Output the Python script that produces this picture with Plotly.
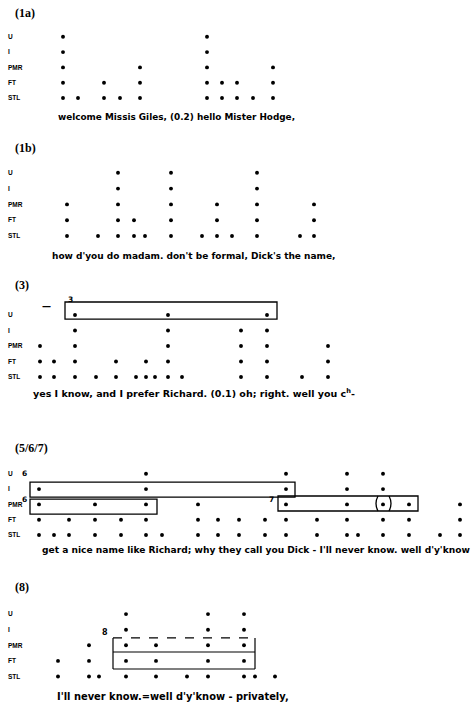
import plotly.graph_objects as go

W, H = 475, 709

# ---------------- data ----------------
levels = ["STL", "FT", "PMR", "I", "U"]

titles = ["(1a)", "(1b)", "(3)", "(5/6/7)", "(8)"]
utterances = [
    "welcome Missis Giles, (0.2) hello Mister Hodge,",
    "how d'you do madam. don't be formal, Dick's the name,",
    "yes I know, and I prefer Richard. (0.1) oh; right. well you c<sup>h</sup>-",
    "get a nice name like Richard; why they call you Dick - I'll never know. well d'y'know",
    "I'll never know.=well d'y'know - privately,",
]

# beat positions along each utterance and number of stacked prominence levels
pos_1a = [63, 78, 104, 120, 140, 207, 222, 237, 253, 273]
hgt_1a = [5, 1, 2, 1, 3, 5, 2, 2, 1, 3]

pos_1b = [67, 98, 118, 134, 145, 171, 202, 217, 232, 257, 300, 314]
hgt_1b = [3, 1, 5, 2, 1, 5, 1, 3, 1, 5, 1, 3]

pos_3 = [40, 54, 75, 96, 116, 136, 146, 155, 168, 182, 241, 267, 302, 328]
hgt_3 = [3, 2, 5, 1, 2, 1, 2, 1, 5, 1, 4, 5, 1, 3]

pos_567 = [39, 54, 69, 95, 121, 146, 162, 198, 218, 239, 265, 286, 317, 347, 358, 383, 409, 440, 460]
hgt_567 = [4, 1, 2, 3, 2, 5, 1, 3, 2, 2, 2, 5, 2, 5, 1, 5, 3, 1, 3]

pos_8 = [58, 89, 99, 126, 156, 187, 208, 244, 255, 275]
hgt_8 = [2, 3, 1, 5, 3, 1, 5, 5, 1, 1]

positions = [pos_1a, pos_1b, pos_3, pos_567, pos_8]
heights = [hgt_1a, hgt_1b, hgt_3, hgt_567, hgt_8]

# grouping boxes: (panel, x start, x end, level low, level high)
boxes_3 = [(2, 65, 277, 3.74, 4.84)]
boxes_567 = [(3, 30, 295, 2.48, 3.46), (3, 30, 157, 1.37, 2.35), (3, 278, 418, 1.57, 2.55)]
parens_567 = [(3, 378, -1, 1.57, 2.55), (3, 389, 1, 1.57, 2.55)]  # (panel, x, bulge side, lo, hi)
box_8 = (4, 113, 255, 0.48, 1.57, 2.47)

# marker numerals: (panel, x, level, text, size)
numerals = [(2, 70, 4.97, "3", 7.5), (2, 46, 4.58, "—", 9),
            (3, 24, 4.05, "6", 7.5), (3, 24, 2.35, "6", 7.5), (3, 271, 2.35, "7", 7.5),
            (4, 105, 2.85, "8", 8)]

# ---------------- layout geometry ----------------
geom = [(98, 15.3), (236, 15.8), (377, 15.5), (535, 15.3), (676.5, 15.6)]  # STL pixel row, row step
text_lv = [-1.24, -1.27, -1.03, -0.98, -1.31]
title_lv = [5.56, 5.57, 5.94, 5.69, 5.74]
text_x = [56, 50, 31, 40, 55]
text_size = [8.9, 9.0, 9.5, 9.1, 9.9]

fig = go.Figure()
shapes = []
annotations = []

def yname(i):
    return "y" if i == 0 else f"y{i+1}"

for i in range(5):
    xs, ys = [], []
    for x, h in zip(positions[i], heights[i]):
        for lv in range(h):
            xs.append(x)
            ys.append(lv)
    fig.add_trace(go.Scatter(x=xs, y=ys, mode="markers",
                             marker=dict(color="black", size=3.9),
                             xaxis="x", yaxis=yname(i),
                             hoverinfo="skip", showlegend=False))
    stl, step = geom[i]
    axis = dict(domain=[0, 1], range=[(stl - H) / step, stl / step],
                tickvals=list(range(5)), ticktext=[f"<b>{t}</b>" for t in levels],
                ticklabelposition="inside", ticklabelstandoff=5,
                showgrid=False, zeroline=False, showline=False, ticks="",
                tickfont=dict(family="Liberation Sans", size=6.5, color="black"),
                fixedrange=True)
    if i > 0:
        axis["overlaying"] = "y"
    fig.layout["yaxis" + ("" if i == 0 else str(i + 1))] = axis

    annotations.append(dict(x=text_x[i], y=text_lv[i], xref="x", yref=yname(i),
                            text=f"<b>{utterances[i]}</b>", showarrow=False,
                            xanchor="left", yanchor="middle",
                            font=dict(family="DejaVu Sans", size=text_size[i], color="black")))
    annotations.append(dict(x=13, y=title_lv[i], xref="x", yref=yname(i),
                            text=f"<b>{titles[i]}</b>", showarrow=False,
                            xanchor="left", yanchor="middle",
                            font=dict(family="Liberation Serif", size=12, color="black")))

for (p, x0, x1, y0, y1) in boxes_3 + boxes_567:
    shapes.append(dict(type="rect", xref="x", yref=yname(p), x0=x0, x1=x1, y0=y0, y1=y1,
                       line=dict(color="black", width=1.3), fillcolor="rgba(0,0,0,0)"))
for (p, x, side, y0, y1) in parens_567:
    mid = (y0 + y1) / 2
    path = f"M {x},{y0} Q {x + 4 * side},{mid} {x},{y1}"
    shapes.append(dict(type="path", xref="x", yref=yname(p), path=path,
                       line=dict(color="black", width=1.3)))

p, x0, x1, yb, ym, yt = box_8
for seg in [(x0, yb, x0, yt), (x1, yb, x1, yt), (x0, yb, x1, yb), (x0, ym, x1, ym)]:
    shapes.append(dict(type="line", xref="x", yref=yname(p), x0=seg[0], y0=seg[1], x1=seg[2], y1=seg[3],
                       line=dict(color="black", width=1.2)))
shapes.append(dict(type="line", xref="x", yref=yname(p), x0=x0, y0=yt, x1=x1, y1=yt,
                   line=dict(color="black", width=1.2, dash="dash")))

for (p, x, lv, t, sz) in numerals:
    annotations.append(dict(x=x, y=lv, xref="x", yref=yname(p), text=f"<b>{t}</b>",
                            showarrow=False, xanchor="center", yanchor="middle",
                            font=dict(family="DejaVu Sans", size=sz, color="black")))

fig.update_layout(
    width=W, height=H,
    margin=dict(l=0, r=0, t=0, b=0),
    paper_bgcolor="white", plot_bgcolor="white",
    xaxis=dict(range=[0, W], domain=[0, 1], visible=False, fixedrange=True),
    shapes=shapes, annotations=annotations, showlegend=False,
)

fig.write_html("out.html", config={"displayModeBar": False},
               post_script="document.body.style.margin='0';")
